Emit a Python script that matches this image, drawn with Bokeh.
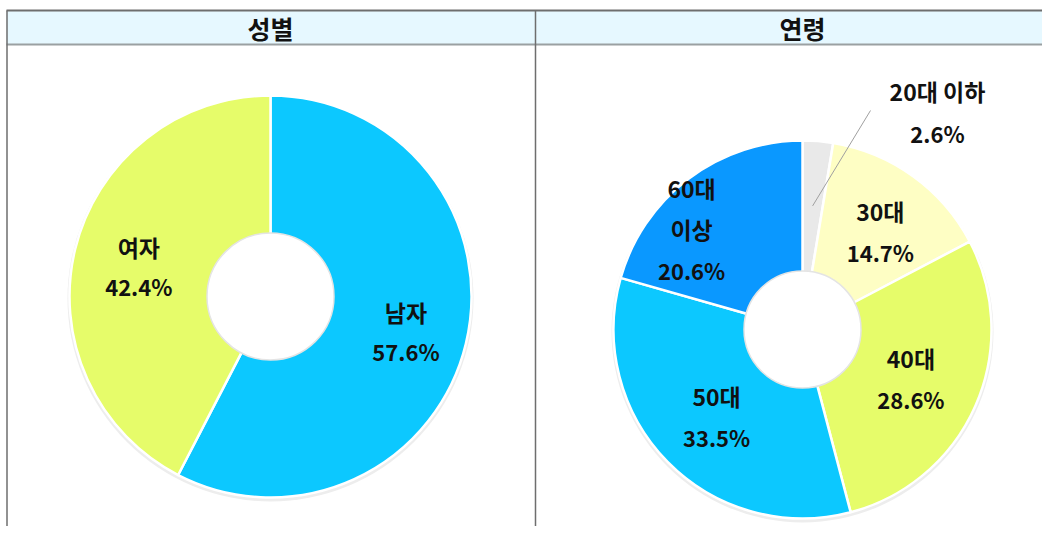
import math
from bokeh.plotting import figure
from bokeh.models import Range1d, ColumnDataSource
from bokeh.core.properties import value
from bokeh.embed import file_html
from bokeh.resources import INLINE

# ---- data ----
gender_labels = ["남자", "여자"]
gender_values = [57.6, 42.4]
gender_colors = ["#0CC8FF", "#E6FC6A"]

age_labels = ["20대 이하", "30대", "40대", "50대", "60대\n이상"]
age_values = [2.6, 14.7, 28.6, 33.5, 20.6]
age_colors = ["#E9E9E9", "#FEFEC4", "#E6FC6A", "#0CC8FF", "#0A98FF"]

headers = ["성별", "연령"]

W, H = 1042, 526
FONT = "Noto Sans CJK KR"
NAME_SIZE = "23px"
PCT_SIZE = "22px"

p = figure(width=W, height=H, output_backend="svg", toolbar_location=None,
           x_range=Range1d(0, W), y_range=Range1d(0, H), min_border=0)
p.axis.visible = False
p.grid.visible = False
p.outline_line_color = None
p.background_fill_color = "white"

def sy(y):  # reference-screen y -> data y
    return H - y

# ---- table frame ----
p.quad(left=[6], right=[1060], bottom=[sy(44)], top=[sy(10)],
       fill_color="#E6F8FF", line_color=None)
p.segment(x0=[6], y0=[sy(10)], x1=[1060], y1=[sy(10)], line_color="#6E6E6E", line_width=2)
p.segment(x0=[6], y0=[sy(44)], x1=[1060], y1=[sy(44)], line_color="#9AA0A2", line_width=2)
p.segment(x0=[6.5, 535], y0=[sy(10), sy(10)], x1=[6.5, 535], y1=[sy(560), sy(560)],
          line_color="#6E6E6E", line_width=1.5)

p.text(x=[270, 802], y=[sy(27), sy(27)], text=headers, text_font=value(FONT),
       text_font_style="bold", text_font_size="25px", text_align="center",
       text_baseline="middle", text_color="#111111")


def donut(cx, cy, r_in, r_out, values, colors):
    total = sum(values)
    starts, ends, mids = [], [], []
    cum = 0.0
    for v in values:
        a0 = math.pi / 2 - 2 * math.pi * cum / total
        cum += v
        a1 = math.pi / 2 - 2 * math.pi * cum / total
        starts.append(a1)
        ends.append(a0)
        mids.append((a0 + a1) / 2)
    # faint outer shadow
    p.circle(x=[cx], y=[cy - 2], radius=r_out + 2, fill_color="#EDEDED",
             line_color=None)
    src = ColumnDataSource(dict(x=[cx] * len(values), y=[cy] * len(values),
                                s=starts, e=ends, c=colors))
    p.annular_wedge(x="x", y="y", inner_radius=r_in, outer_radius=r_out,
                    start_angle="s", end_angle="e", fill_color="c",
                    line_color="white", line_width=2.5, source=src)
    p.circle(x=[cx], y=[cy], radius=r_in + 1.5, fill_color="white",
             line_color="#E4E4E4", line_width=1.5)
    return mids


def labels(cx, cy, mids, names, vals, radii, offs, gap=40):
    nx, ny, nt, px_, py_, pt = [], [], [], [], [], []
    for m, n, v, r, o in zip(mids, names, vals, radii, offs):
        a = m + math.radians(o)
        lx = cx + r * math.cos(a)
        ly = cy + r * math.sin(a)
        lines = n.split("\n") + [f"{v:.1f}%"]
        k = len(lines)
        for i, t in enumerate(lines):
            yy = ly + gap * ((k - 1) / 2 - i)
            if i == k - 1:
                px_.append(lx); py_.append(yy); pt.append(t)
            else:
                nx.append(lx); ny.append(yy); nt.append(t)
    for xs, ys, ts, sz in ((nx, ny, nt, NAME_SIZE), (px_, py_, pt, PCT_SIZE)):
        p.text(x=xs, y=ys, text=ts, text_font=value(FONT), text_font_style="bold",
               text_font_size=sz, text_align="center", text_baseline="middle",
               text_color="#111111")


# ---- left donut ----
lcx, lcy = 270, sy(296)
mids_g = donut(lcx, lcy, 62, 201, gender_values, gender_colors)
labels(lcx, lcy, mids_g, gender_labels, gender_values, [140, 135], [-1, 1], gap=39)

# ---- right donut ----
rcx, rcy = 802, sy(329)
mids_a = donut(rcx, rcy, 57, 189, age_values, age_colors)
labels(rcx, rcy, mids_a[1:], age_labels[1:], age_values[1:],
       [125, 119, 122, 150], [-2.7, -0.6, 0.8, 10.6], gap=41)

# outside label for the small slice with leader line
m0 = mids_a[0]
p.segment(x0=[rcx + 124 * math.cos(m0)], y0=[rcy + 124 * math.sin(m0)],
          x1=[870], y1=[sy(110)], line_color="#A0A0A0", line_width=1)
p.text(x=[937], y=[sy(90)], text=[age_labels[0]], text_font=value(FONT),
       text_font_style="bold", text_font_size=NAME_SIZE, text_align="center",
       text_baseline="middle", text_color="#111111")
p.text(x=[937], y=[sy(132)], text=[f"{age_values[0]:.1f}%"], text_font=value(FONT),
       text_font_style="bold", text_font_size=PCT_SIZE, text_align="center",
       text_baseline="middle", text_color="#111111")

open("out.html", "w").write(file_html(p, INLINE))
